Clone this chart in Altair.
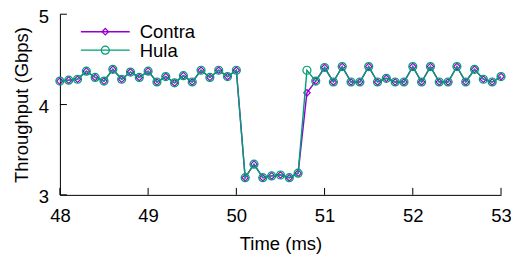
import altair as alt
import pandas as pd

times = [48.0, 48.1, 48.2, 48.3, 48.4, 48.5, 48.6, 48.7, 48.8, 48.9,
         49.0, 49.1, 49.2, 49.3, 49.4, 49.5, 49.6, 49.7, 49.8, 49.9,
         50.0, 50.1, 50.2, 50.3, 50.4, 50.5, 50.6, 50.7, 50.8, 50.9,
         51.0, 51.1, 51.2, 51.3, 51.4, 51.5, 51.6, 51.7, 51.8, 51.9,
         52.0, 52.1, 52.2, 52.3, 52.4, 52.5, 52.6, 52.7, 52.8, 52.9,
         53.0]
contra = [4.26, 4.27, 4.28, 4.37, 4.30, 4.26, 4.39, 4.28, 4.36, 4.30,
          4.37, 4.25, 4.31, 4.24, 4.32, 4.25, 4.38, 4.30, 4.38, 4.31,
          4.38, 3.19, 3.34, 3.19, 3.21, 3.22, 3.19, 3.24, 4.13, 4.26,
          4.41, 4.25, 4.42, 4.25, 4.25, 4.42, 4.25, 4.29, 4.25, 4.25,
          4.42, 4.25, 4.42, 4.25, 4.25, 4.42, 4.25, 4.39, 4.28, 4.25,
          4.31]
hula = [4.26, 4.27, 4.28, 4.37, 4.30, 4.26, 4.39, 4.28, 4.36, 4.30,
        4.37, 4.25, 4.31, 4.24, 4.32, 4.25, 4.38, 4.30, 4.38, 4.31,
        4.38, 3.19, 3.34, 3.19, 3.21, 3.22, 3.19, 3.24, 4.38, 4.26,
        4.41, 4.25, 4.42, 4.25, 4.25, 4.42, 4.25, 4.29, 4.25, 4.25,
        4.42, 4.25, 4.42, 4.25, 4.25, 4.42, 4.25, 4.39, 4.28, 4.25,
        4.31]
series_names = ["Contra", "Hula"]
series_colors = ["#9400D3", "#009E73"]
x_ticks = [48, 49, 50, 51, 52, 53]
y_ticks = [3, 4, 5]
y_tick_labels = ["3", "4", "5"]

W, H = 442, 181
FONT = "Liberation Sans"
FS = 18.5

df = pd.DataFrame({
    "time": times * 2,
    "value": contra + hula,
    "series": ["Contra"] * len(times) + ["Hula"] * len(times),
})

xs = alt.Scale(domain=[48, 53], nice=False)
ys = alt.Scale(domain=[3, 5], nice=False)
cs = alt.Scale(domain=series_names, range=series_colors)

xax = alt.Axis(values=x_ticks, format="d", title="Time (ms)", ticks=False, grid=False,
               labelPadding=12, titlePadding=9, domainColor="black",
               labelFlush=False, labelOverlap=False)
yax = alt.Axis(values=y_ticks, labels=False, title="Throughput (Gbps)", ticks=False, grid=False,
               titlePadding=28, domainColor="black")

base = alt.Chart(df)

def series_layers(name, shape, size):
    f = base.transform_filter(alt.datum.series == name)
    line = f.mark_line(strokeWidth=1.4).encode(
        x=alt.X("time:Q", scale=xs, axis=xax),
        y=alt.Y("value:Q", scale=ys, axis=yax),
        color=alt.Color("series:N", scale=cs, legend=None),
    )
    pts = f.mark_point(shape=shape, filled=False, size=size, strokeWidth=1.2, opacity=1).encode(
        x=alt.X("time:Q", scale=xs, axis=xax),
        y=alt.Y("value:Q", scale=ys, axis=yax),
        color=alt.Color("series:N", scale=cs, legend=None),
    )
    return [line, pts]

layers = []
layers += series_layers("Contra", "diamond", 42)
layers += series_layers("Hula", "circle", 64)

xt = alt.Chart(pd.DataFrame({"time": x_ticks})).mark_rule(color="black", strokeWidth=1).encode(
    x=alt.X("time:Q", scale=xs, axis=xax), y=alt.value(H), y2=alt.value(H - 7))
ytdf = alt.Chart(pd.DataFrame({"value": y_ticks, "lab": y_tick_labels}))
yt = ytdf.mark_rule(color="black", strokeWidth=1).encode(
    y=alt.Y("value:Q", scale=ys, axis=yax), x=alt.value(0), x2=alt.value(7))
ylab = ytdf.mark_text(align="right", baseline="middle", font=FONT, fontSize=FS,
                      color="black", dy=2.5).encode(
    y=alt.Y("value:Q", scale=ys, axis=yax), x=alt.value(-11), text="lab:N")
layers += [xt, yt, ylab]

# manual legend
for i, (name, col, shape, size) in enumerate(zip(series_names, series_colors,
                                                 ["diamond", "circle"], [42, 64])):
    ly = 17.5 + i * 18.5
    ldf = alt.Chart(pd.DataFrame({"label": [name]}))
    layers.append(ldf.mark_rule(color=col, strokeWidth=1.4).encode(
        x=alt.value(21), x2=alt.value(70), y=alt.value(ly)))
    layers.append(ldf.mark_point(shape=shape, filled=False, size=size, color=col,
                                 strokeWidth=1.2, opacity=1).encode(
        x=alt.value(45.5), y=alt.value(ly)))
    layers.append(ldf.mark_text(align="left", baseline="middle", font=FONT,
                                fontSize=FS, color="black").encode(
        x=alt.value(80), y=alt.value(ly + 0.5), text="label:N"))

chart = alt.layer(*layers).properties(
    width=W, height=H,
    autosize=alt.AutoSizeParams(type="none"),
    padding={"left": 52, "top": 6, "right": 10, "bottom": 60},
).configure_view(stroke=None).configure_axis(
    labelFont=FONT, titleFont=FONT, labelFontSize=FS, titleFontSize=FS,
    titleFontWeight="normal", labelColor="black", titleColor="black",
    domainWidth=1, labelOverlap=False,
)

chart.save("out.html", embed_options={"renderer": "svg", "actions": False})
